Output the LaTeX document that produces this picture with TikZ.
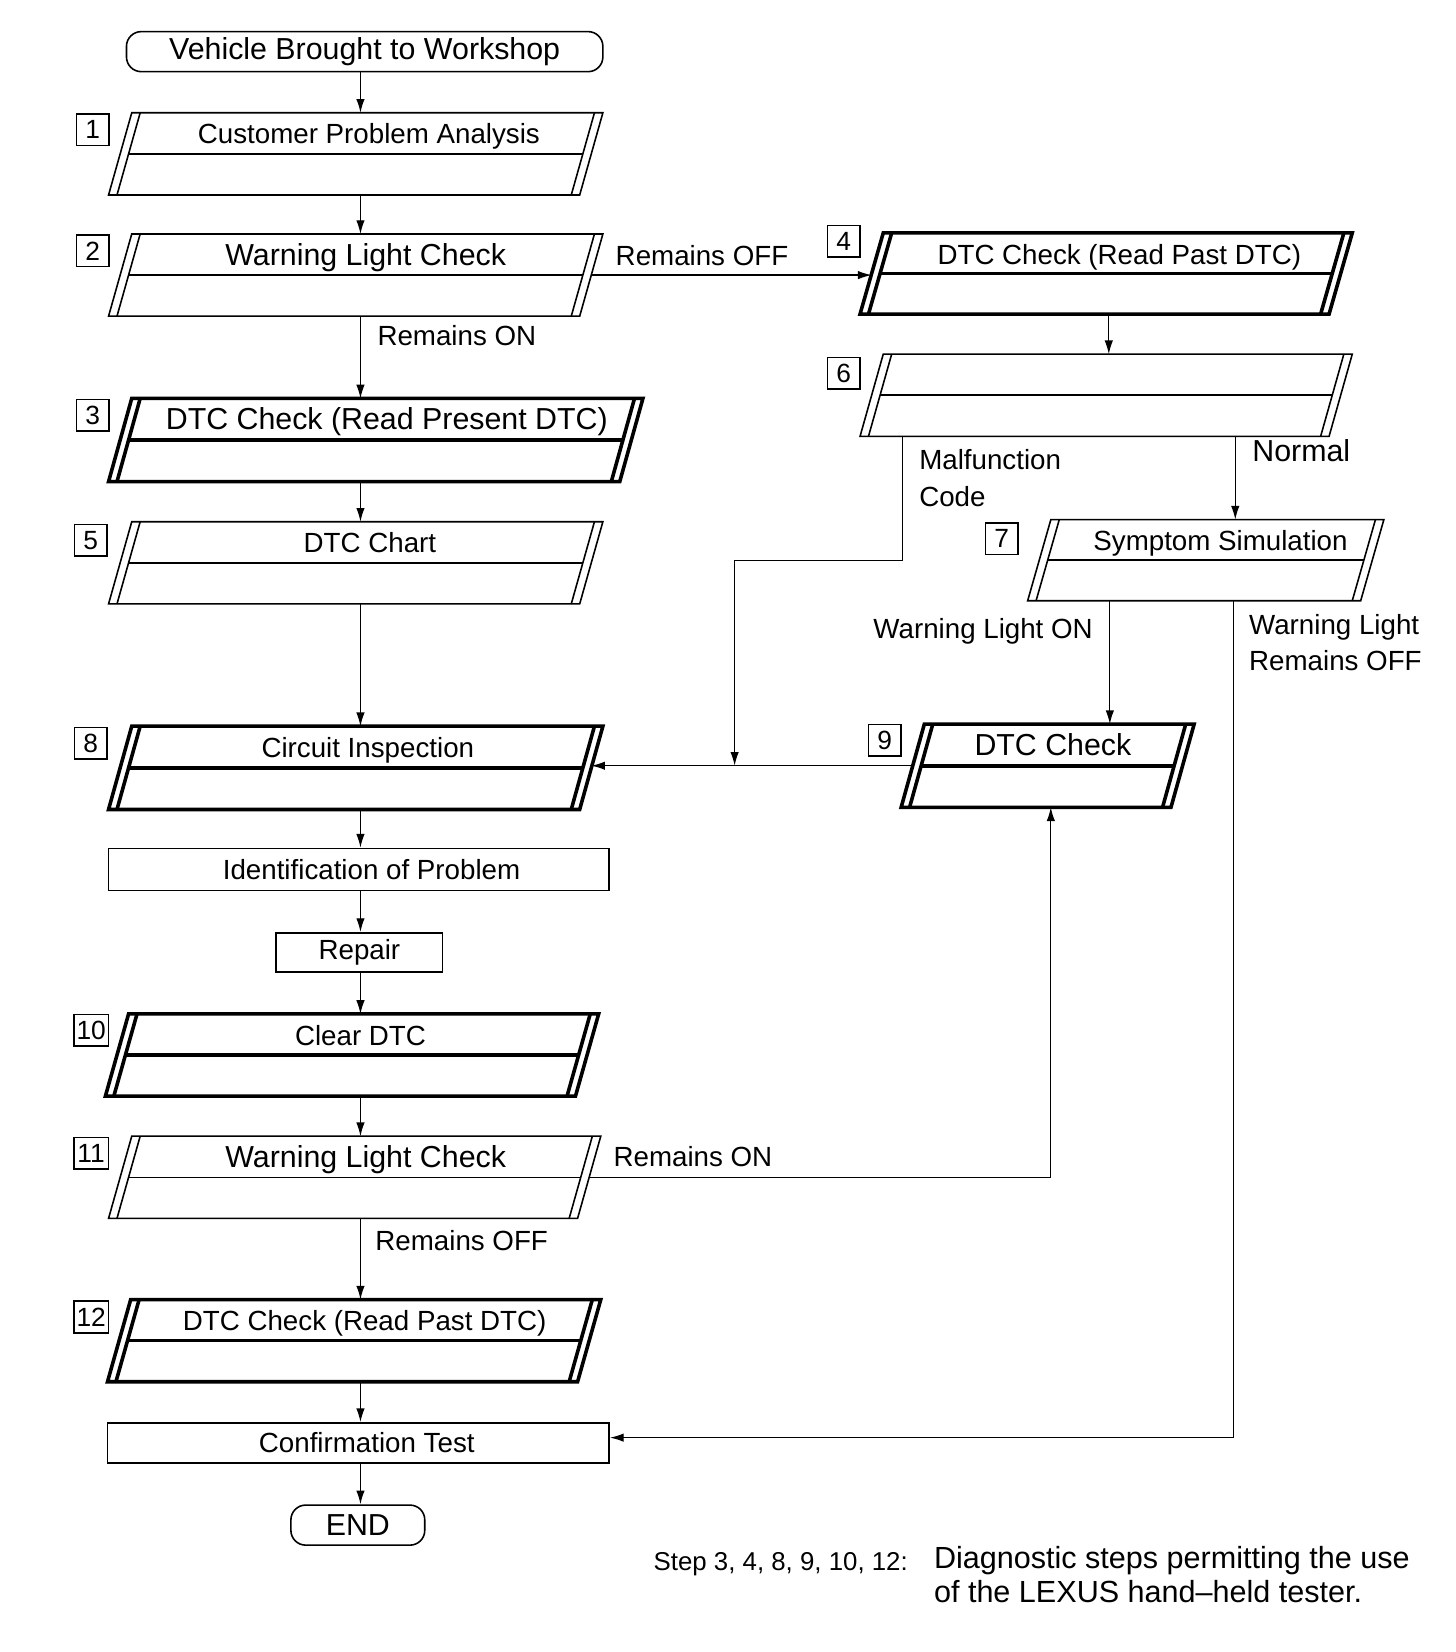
\documentclass[tikz,border=0pt]{standalone}
\usepackage{fontspec}
\setmainfont{Liberation Sans}
\usetikzlibrary{arrows.meta,calc}
\newcommand{\fsm}{\fontsize{26.3pt}{30pt}\selectfont}
\newcommand{\flg}{\fontsize{28.8pt}{32pt}\selectfont}
\newcommand{\fnum}{\fontsize{25pt}{28pt}\selectfont}
% name, x bottom-left, x top-right, y top, y bottom, line style, text x, text
\newcommand{\pbox}[8]{%
  \path ({(#2+#3)/2},{(#4+#5)/2}) node[inner sep=0pt,outer sep=0pt,minimum width={(#3-#2)*1pt},minimum height={(#5-#4)*1pt}] (#1) {};
  \coordinate (#1-l) at ({#2+11},{(#4+#5)/2});
  \coordinate (#1-r) at ({#3-11},{(#4+#5)/2});
  \draw[#6] ({#2+22},#4) -- (#3,#4) -- ({#3-22},#5) -- (#2,#5) -- cycle;
  \draw[#6] ({#2+30},#4) -- ({#2+8},#5);
  \draw[#6] ({#3-8},#4) -- ({#3-30},#5);
  \draw[#6] ({#2+19},{(#4+#5)/2}) -- ({#3-19},{(#4+#5)/2});
  \node[anchor=base,inner sep=0pt] (#1-t) at (#7,{#4+29.5}) {#8};
}
\begin{document}
\begin{tikzpicture}[x=1pt,y=-1pt,
  thinbox/.style={line width=1.5pt,line join=miter},
  thickbox/.style={line width=3.4pt,line join=miter},
  conn/.style={line width=1.2pt},
  arr/.style={conn,-{Latex[length=13pt,width=8pt]}},
  term/.style={draw,line width=1.5pt,rounded corners=14pt,inner sep=0pt,font=\flg},
  rbox/.style={draw,line width=1.5pt,inner sep=0pt,font=\fsm},
  numbox/.style={draw,line width=1.4pt,minimum width=31pt,minimum height=30pt,inner sep=0pt,font=\fnum},
  lbl/.style={font=\fsm,inner sep=0pt},
  lbll/.style={font=\flg,inner sep=0pt}]
\useasboundingbox (0,0) rectangle (1381.4,1567.4);

% terminals and plain boxes
\node[term,minimum width=452pt,minimum height=38pt] (start) at (346,49) {Vehicle Brought to Workshop};
\node[rbox,minimum width=475pt,minimum height=40pt] (ident) at (340.5,825) {\hspace*{24pt}Identification of Problem};
\node[rbox,minimum width=158pt,minimum height=37pt] (repair) at (341,903.5) {Repair};
\node[rbox,minimum width=476pt,minimum height=38pt] (conf) at (340,1369) {\hspace*{16pt}Confirmation Test};
\node[term,minimum width=127pt,minimum height=38pt,font=\flg] (end) at (339.5,1447) {END};

% step boxes
\pbox{b1}{103}{572}{107}{185}{thinbox}{350}{\fsm Customer Problem Analysis}
\pbox{b2}{103}{572}{222}{300}{thinbox}{347}{\flg Warning Light Check}
\pbox{b3}{103}{610}{378}{457}{thickbox}{367}{\flg DTC Check (Read Present DTC)}
\pbox{b4}{816}{1283}{221}{298}{thickbox}{1062}{\fsm DTC Check (Read Past DTC)}
\pbox{b6}{816}{1283}{336}{414}{thinbox}{1050}{}
\pbox{b5}{103}{572}{495}{573}{thinbox}{351}{\fsm DTC Chart}
\pbox{b7}{975}{1313}{493}{570}{thinbox}{1158}{\fsm Symptom Simulation}
\pbox{b8}{103}{572}{689}{768}{thickbox}{349}{\fsm Circuit Inspection}
\pbox{b9}{855}{1133}{687}{766}{thickbox}{999}{\flg DTC Check}
\pbox{b10}{100}{568}{962}{1040}{thickbox}{342}{\fsm Clear DTC}
\pbox{b11}{103}{570}{1078}{1156}{thinbox}{347}{\flg Warning Light Check}
\pbox{b12}{102}{570}{1233}{1311}{thickbox}{346}{\fsm DTC Check (Read Past DTC)}

% step numbers
\node[numbox] (n1) at (88,123) {1};
\node[numbox] (n2) at (88,238) {2};
\node[numbox] (n3) at (88,394) {3};
\node[numbox] (n4) at (800.5,229) {4};
\node[numbox] (n6) at (800.5,354) {6};
\node[numbox] (n5) at (86,512.5) {5};
\node[numbox] (n7) at (950.5,511) {7};
\node[numbox] (n8) at (86,705) {8};
\node[numbox] (n9) at (839.5,702.5) {9};
\node[numbox,minimum width=33pt] (n10) at (86.5,977.5) {10};
\node[numbox,minimum width=33pt] (n11) at (86.5,1094) {11};
\node[numbox,minimum width=33pt] (n12) at (86.5,1249.5) {12};

% routing coordinates
\coordinate (cx) at (342,0);
\coordinate (c4) at (1052,0);
\coordinate (m1) at (856,532);
\coordinate (m2) at (697,532);
\coordinate (nx) at (1172,0);
\coordinate (c9) at (1053,0);
\coordinate (w1) at (1170,1364);
\coordinate (r1) at (997,1117);

% main column
\draw[arr] (start.south -| cx) -- (b1.north -| cx);
\draw[arr] (b1.south -| cx) -- (b2.north -| cx);
\draw[arr] (b2.south -| cx) -- (b3.north -| cx);
\draw[arr] (b3.south -| cx) -- (b5.north -| cx);
\draw[arr] (b5.south -| cx) -- (b8.north -| cx);
\draw[arr] (b8.south -| cx) -- (ident.north -| cx);
\draw[arr] (ident.south -| cx) -- (repair.north -| cx);
\draw[arr] (repair.south -| cx) -- (b10.north -| cx);
\draw[arr] (b10.south -| cx) -- (b11.north -| cx);
\draw[arr] (b11.south -| cx) -- (b12.north -| cx);
\draw[arr] (b12.south -| cx) -- (conf.north -| cx);
\draw[arr] (conf.south -| cx) -- (end.north -| cx);

% branches
\draw[arr] (b2-r) -- (b4-l |- b2-r);
\draw[arr] (b4.south -| c4) -- (b6.north -| c4);
\draw[arr] (b6.south -| m1) -- (m1) -- (m2) -- (m2 |- b9-l);
\draw[arr] (b6.south -| nx) -- (b7.north -| nx);
\draw[arr] (b7.south -| c9) -- (b9.north -| c9);
\draw[arr] (b7.south -| w1) -- (w1) -- (conf.east |- w1);
\draw[arr] (b9-l) -- (b8-r |- b9-l);
\draw[arr] (b11-r) -- (r1) -- (r1 |- b9.south);

% labels
\node[lbl,anchor=base west] (l1) at (584,252) {Remains OFF};
\node[lbl,anchor=base west] (l2) at (358,328) {Remains ON};
\node[lbl,anchor=base west] (l3) at (872,445) {Malfunction};
\node[lbl,anchor=base west] (l4) at (872,481) {Code};
\node[lbll,anchor=base west] (l5) at (1188,438) {Normal};
\node[lbl,anchor=base east] (l6) at (1037,606) {Warning Light ON};
\node[lbl,anchor=base west] (l7) at (1185,602) {Warning Light};
\node[lbl,anchor=base west] (l8) at (1185,636) {Remains OFF};
\node[lbl,anchor=base west] (l9) at (582,1107) {Remains ON};
\node[lbl,anchor=base west] (l10) at (356,1186) {Remains OFF};

% footer
\node[inner sep=0pt,anchor=base west,font=\fontsize{24.5pt}{28pt}\selectfont] (f1) at (620,1490) {Step 3, 4, 8, 9, 10, 12:};
\node[inner sep=0pt,anchor=base west,font=\fontsize{29pt}{32pt}\selectfont] (f2) at (886,1488) {Diagnostic steps permitting the use};
\node[inner sep=0pt,anchor=base west,font=\fontsize{29pt}{32pt}\selectfont] (f3) at (886,1520) {of the LEXUS hand--held tester.};
\end{tikzpicture}
\end{document}
